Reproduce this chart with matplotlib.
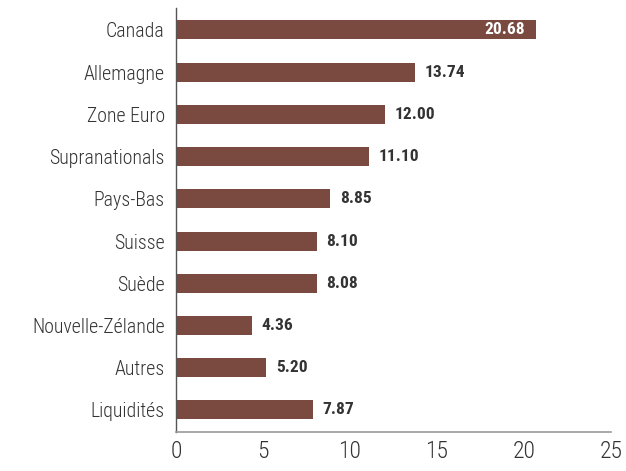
import matplotlib.pyplot as plt
from matplotlib import font_manager

# donnees du graphique
pays = ["Canada", "Allemagne", "Zone Euro", "Supranationals", "Pays-Bas",
        "Suisse", "Suède", "Nouvelle-Zélande", "Autres", "Liquidités"]
valeurs = [20.68, 13.74, 12.00, 11.10, 8.85, 8.10, 8.08, 4.36, 5.20, 7.87]
ticks_x = [0, 5, 10, 15, 20, 25]

# police etroite si disponible
noms = {f.name for f in font_manager.fontManager.ttflist}
police = "DejaVu Sans"
for p in ["Roboto Condensed", "Liberation Sans Narrow", "Open Sans Condensed"]:
    if p in noms:
        police = p
        break
plt.rcParams["font.family"] = police
plt.rcParams["font.stretch"] = "condensed"

couleur = "#7a4a41"

fig = plt.figure(figsize=(6.26, 4.71), dpi=100)
ax = fig.add_axes([0.281, 0.083, 0.695, 0.90])

y = list(range(len(pays)))
ax.barh(y, valeurs, height=0.45, color=couleur)

for i, v in enumerate(valeurs):
    if v > 18:
        ax.annotate(f"{v:.2f}", (v, i), xytext=(-8, 0), textcoords="offset points",
                    ha="right", va="center", color="white", fontsize=12.5, fontweight="bold")
    else:
        ax.annotate(f"{v:.2f}", (v, i), xytext=(7, 0), textcoords="offset points",
                    ha="left", va="center", color="#333333", fontsize=12.5, fontweight="bold")

ax.set_yticks(y)
ax.set_yticklabels(pays, fontweight="light")
ax.set_xticks(ticks_x)
ax.set_xticklabels([str(t) for t in ticks_x], fontweight="light")
ax.set_xlim(0, 25)
ax.set_ylim(9.52, -0.52)
ax.tick_params(axis="y", length=0, pad=8, labelsize=14.3, labelcolor="#333333")
ax.tick_params(axis="x", length=0, pad=6, labelsize=17, labelcolor="#333333")

for s in ["top", "right"]:
    ax.spines[s].set_visible(False)
ax.spines["left"].set_color("#555555")
ax.spines["bottom"].set_color("#999999")
ax.spines["left"].set_linewidth(1)
ax.spines["bottom"].set_linewidth(1.2)

fig.savefig("out.png", dpi=100)
